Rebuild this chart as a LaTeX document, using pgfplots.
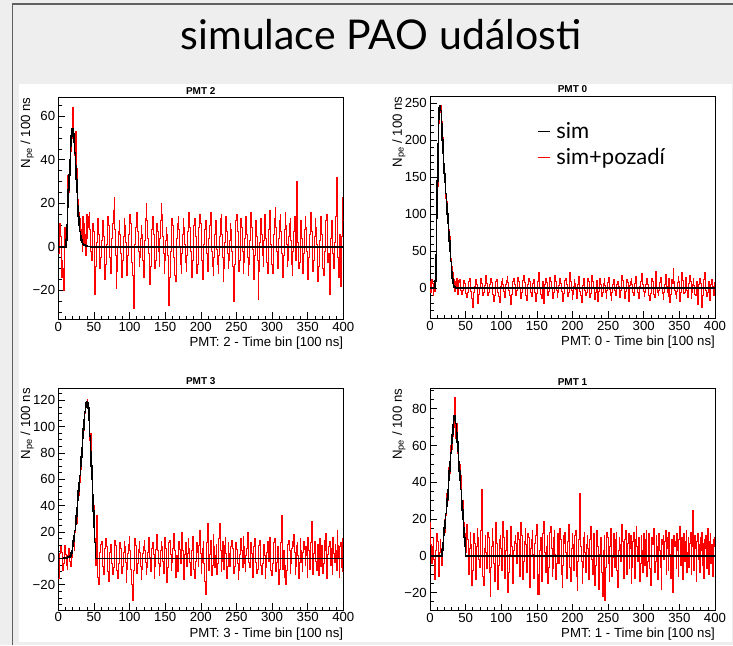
\documentclass[border=0pt]{standalone}
\usepackage{pgfplots}
\pgfplotsset{compat=1.18}
\usepackage{pgfplotstable}
\usepackage{fontspec}
\setmainfont{Liberation Sans}
\newfontfamily\latofont{Lato}
\definecolor{bg}{HTML}{EEEEEE}
\definecolor{framec}{HTML}{606060}
\definecolor{rootred}{HTML}{FF0000}

% PMT 2, sim+pozadi, bins 0..399
\pgfplotstableread[row sep=\\]{y\\
-3\\ 8\\ 11\\ 5\\ -14\\ -6\\ -10\\ -20\\ 2\\ 9\\ 3\\ 10\\ 14\\ 33\\ 25\\ 35\\ 38\\ 44\\ 50\\ 57\\
64\\ 50\\ 52\\ 42\\ 53\\ 36\\ 31\\ 22\\ 16\\ 9\\ 13\\ 3\\ 8\\ -2\\ 14\\ 1\\ 11\\ 6\\ -4\\ 15\\
4\\ 9\\ 14\\ 16\\ 8\\ -2\\ -6\\ 3\\ 11\\ 7\\ -4\\ -22\\ -9\\ 2\\ 10\\ 13\\ 6\\ -3\\ -10\\ -5\\
3\\ 9\\ 12\\ 5\\ -6\\ -15\\ -8\\ 1\\ 8\\ 14\\ 10\\ 2\\ -5\\ -12\\ -7\\ 4\\ 11\\ 17\\ 23\\ 8\\
-4\\ -19\\ -11\\ 0\\ 7\\ 12\\ 6\\ -3\\ -9\\ -14\\ -6\\ 5\\ 13\\ 10\\ 2\\ -8\\ -13\\ -4\\ 6\\ 9\\
15\\ 11\\ 3\\ -7\\ -13\\ -28\\ -10\\ 1\\ 9\\ 12\\ 16\\ 7\\ -2\\ -9\\ -5\\ 4\\ 10\\ 6\\ -6\\ -14\\
-8\\ 3\\ 13\\ 20\\ 12\\ 4\\ -3\\ -11\\ -17\\ -9\\ 2\\ 8\\ 14\\ 6\\ -4\\ -10\\ -6\\ 5\\ 11\\ 7\\
-2\\ -9\\ 4\\ 12\\ 20\\ 15\\ 5\\ -3\\ -12\\ -6\\ 3\\ 9\\ 6\\ -4\\ -11\\ -27\\ -14\\ -2\\ 8\\ 13\\
10\\ 3\\ -5\\ -13\\ -16\\ -7\\ 4\\ 11\\ 14\\ 8\\ 0\\ -8\\ -12\\ -3\\ 6\\ 13\\ 9\\ 1\\ -7\\ -11\\
-4\\ 7\\ 12\\ 16\\ 9\\ -2\\ -10\\ -14\\ -6\\ 3\\ 10\\ 13\\ 5\\ -4\\ -12\\ -8\\ 2\\ 9\\ 15\\ 11\\
4\\ -6\\ -15\\ -9\\ 1\\ 8\\ 12\\ 7\\ -3\\ -11\\ -7\\ 4\\ 10\\ 16\\ 9\\ -2\\ -9\\ -13\\ -5\\ 6\\
12\\ 8\\ -1\\ -8\\ -12\\ -4\\ 5\\ 13\\ 15\\ 6\\ -5\\ -16\\ -10\\ 2\\ 9\\ 14\\ 7\\ -3\\ -10\\ -6\\
3\\ 11\\ 8\\ -2\\ -9\\ -14\\ -25\\ -8\\ 4\\ 12\\ 15\\ 7\\ -4\\ -11\\ -6\\ 5\\ 13\\ 9\\ -2\\ -12\\
-7\\ 4\\ 10\\ 14\\ 6\\ -5\\ -13\\ -8\\ 3\\ 11\\ 16\\ 9\\ -1\\ -10\\ -15\\ -4\\ 7\\ 12\\ 5\\ -6\\
-24\\ -11\\ 2\\ 9\\ 13\\ 6\\ -4\\ -9\\ 3\\ 15\\ 12\\ 4\\ -7\\ -12\\ -3\\ 8\\ 17\\ 10\\ 1\\ -8\\
-12\\ -5\\ 6\\ 13\\ 18\\ 9\\ -2\\ -10\\ -6\\ 4\\ 12\\ 15\\ 7\\ -3\\ -11\\ -14\\ -4\\ 8\\ 16\\ 10\\
1\\ -9\\ -6\\ 5\\ 11\\ 13\\ 3\\ -8\\ -13\\ -2\\ 7\\ 14\\ 10\\ -6\\ 30\\ 12\\ 2\\ -10\\ -7\\ 6\\
12\\ 4\\ -7\\ -12\\ -3\\ 8\\ 14\\ 9\\ -2\\ -9\\ -15\\ -5\\ 6\\ 12\\ 16\\ 7\\ -4\\ -11\\ -6\\ 5\\
13\\ 9\\ 1\\ -8\\ -16\\ -9\\ 3\\ 11\\ 14\\ 6\\ -4\\ -10\\ -13\\ -2\\ 8\\ 12\\ 15\\ 4\\ -7\\ -3\\
-22\\ -10\\ 4\\ 12\\ 9\\ -3\\ -10\\ 2\\ 11\\ 14\\ 32\\ 8\\ -5\\ -14\\ -8\\ 6\\ -18\\ 5\\ 23\\ 12\\ 12\\
}\redA

% PMT 0
\pgfplotstableread[row sep=\\]{y\\
10\\ -6\\ 12\\ 7\\ -9\\ 2\\ -4\\ 14\\ 40\\ 100\\ 138\\ 198\\ 222\\ 240\\ 238\\ 247\\ 226\\ 204\\ 176\\ 165\\
150\\ 148\\ 122\\ 118\\ 96\\ 92\\ 80\\ 70\\ 56\\ 40\\ 30\\ 22\\ 6\\ 12\\ -4\\ 9\\ 3\\ 14\\ -8\\ 11\\
8\\ 12\\ 5\\ -3\\ -8\\ -2\\ 6\\ 11\\ 7\\ -1\\ -7\\ -12\\ -5\\ 4\\ 10\\ 14\\ 6\\ -4\\ -13\\ -25\\
-16\\ -6\\ 3\\ 9\\ 12\\ 5\\ -3\\ -20\\ -8\\ 2\\ 8\\ 13\\ 7\\ -2\\ -9\\ -5\\ 4\\ 11\\ 18\\ 7\\
-3\\ -10\\ -6\\ 5\\ 10\\ 14\\ 8\\ -1\\ -8\\ -17\\ -9\\ 2\\ 9\\ 12\\ 4\\ -5\\ -11\\ -19\\ -7\\ 3\\
10\\ 13\\ 6\\ -4\\ -12\\ -6\\ 5\\ 11\\ 16\\ 8\\ -2\\ -9\\ -13\\ -22\\ -8\\ 3\\ 10\\ 13\\ 6\\ -5\\
-10\\ -3\\ 7\\ 15\\ 9\\ 1\\ -7\\ -14\\ -6\\ 4\\ 11\\ 17\\ 8\\ -3\\ -9\\ -16\\ -5\\ 6\\ 13\\ 9\\
2\\ -6\\ -11\\ -4\\ 7\\ 12\\ 5\\ -5\\ -18\\ -7\\ 3\\ 10\\ 21\\ 11\\ 1\\ -8\\ -13\\ -3\\ 9\\ -20\\
-6\\ 5\\ 13\\ 8\\ -2\\ -9\\ -4\\ 6\\ 15\\ 10\\ 1\\ -8\\ -14\\ -5\\ 7\\ 18\\ 9\\ -3\\ -12\\ -6\\
4\\ 10\\ 14\\ 7\\ -4\\ -10\\ -17\\ -7\\ 5\\ 11\\ 13\\ 6\\ -3\\ -11\\ -5\\ 8\\ 22\\ 9\\ -2\\ -15\\
-8\\ 3\\ 12\\ 7\\ -1\\ -13\\ -6\\ 5\\ 16\\ 9\\ -4\\ -10\\ -19\\ -7\\ 4\\ 13\\ 8\\ -2\\ -9\\ -5\\
6\\ 14\\ 9\\ -3\\ -12\\ -7\\ 4\\ 17\\ 10\\ 1\\ -8\\ -15\\ -6\\ 5\\ 11\\ -18\\ -4\\ 9\\ 14\\ 6\\
-2\\ -11\\ -5\\ 7\\ 13\\ 4\\ -6\\ -14\\ -3\\ 8\\ 15\\ 9\\ -1\\ -9\\ -16\\ -6\\ 5\\ 12\\ 7\\ -3\\
-10\\ -4\\ 6\\ 10\\ 3\\ -7\\ -12\\ -2\\ 9\\ 18\\ 11\\ 1\\ -8\\ -13\\ -4\\ 6\\ 12\\ 8\\ -17\\ -6\\
4\\ 10\\ 13\\ 5\\ -5\\ -10\\ -3\\ 7\\ 16\\ 11\\ 2\\ -6\\ -14\\ -8\\ 3\\ 9\\ 12\\ 20\\ 6\\ -4\\
-11\\ -5\\ 5\\ 11\\ 14\\ 6\\ -3\\ -9\\ -16\\ -7\\ 4\\ 13\\ 9\\ -1\\ -8\\ -12\\ 23\\ 10\\ 2\\ -6\\
-10\\ -3\\ 8\\ 15\\ 10\\ 1\\ -7\\ -15\\ -5\\ 6\\ 19\\ 12\\ 3\\ -6\\ -11\\ 14\\ -19\\ -8\\ 5\\ 12\\
7\\ 27\\ 9\\ -2\\ -8\\ -13\\ -4\\ 8\\ 16\\ 10\\ -17\\ -6\\ 5\\ 21\\ 11\\ 2\\ -7\\ -5\\ 15\\ 8\\
-3\\ -12\\ -6\\ 7\\ 18\\ 9\\ -14\\ -5\\ 6\\ 13\\ 4\\ -8\\ -10\\ -2\\ 9\\ -21\\ -9\\ 6\\ 14\\ 7\\
1\\ -26\\ -9\\ 4\\ 12\\ 22\\ 8\\ -3\\ -11\\ -6\\ 5\\ 10\\ -16\\ -7\\ 6\\ 12\\ 3\\ -5\\ -9\\ 8\\ 8\\
}\redB

% PMT 3
\pgfplotstableread[row sep=\\]{y\\
-15\\ -6\\ 4\\ 9\\ 5\\ -3\\ -9\\ -4\\ 6\\ 10\\ 3\\ -5\\ -8\\ 2\\ 8\\ 4\\ -2\\ -6\\ 1\\ 5\\
10\\ 16\\ 6\\ 20\\ 30\\ 27\\ 34\\ 45\\ 48\\ 60\\ 58\\ 68\\ 80\\ 80\\ 92\\ 97\\ 108\\ 110\\ 117\\ 115\\
121\\ 118\\ 114\\ 108\\ 90\\ 95\\ 68\\ 62\\ 45\\ 40\\ 20\\ 15\\ -5\\ 33\\ 8\\ -14\\ -20\\ -6\\ 5\\ 11\\
13\\ 4\\ -6\\ -12\\ -3\\ 8\\ 15\\ 9\\ -2\\ -10\\ -17\\ -6\\ 5\\ 11\\ 7\\ -4\\ -12\\ -7\\ 6\\ 14\\
10\\ 2\\ -9\\ -15\\ -4\\ 7\\ 12\\ 8\\ -1\\ -11\\ -6\\ 5\\ 13\\ 9\\ -3\\ -18\\ -8\\ 4\\ 11\\ 17\\
6\\ -8\\ -14\\ -20\\ -32\\ -9\\ 3\\ 15\\ 10\\ -2\\ -11\\ -4\\ 7\\ 13\\ 5\\ -6\\ -16\\ -8\\ 4\\ 9\\
14\\ 6\\ -3\\ -12\\ -7\\ 5\\ 16\\ 10\\ 1\\ -10\\ -4\\ 8\\ 12\\ 3\\ -15\\ -6\\ 7\\ 11\\ 18\\ 6\\
-4\\ -13\\ -6\\ 6\\ 13\\ 9\\ -2\\ -11\\ 4\\ 16\\ 8\\ -5\\ -18\\ -7\\ 5\\ 12\\ 14\\ 3\\ -9\\ -3\\
8\\ 11\\ 19\\ 6\\ -14\\ -7\\ 2\\ -10\\ 5\\ 13\\ 7\\ -4\\ 10\\ 20\\ 6\\ -12\\ -16\\ 3\\ 12\\ 9\\
-6\\ 4\\ 15\\ 8\\ -3\\ -13\\ -5\\ 6\\ 17\\ 9\\ -8\\ -15\\ -2\\ 7\\ 12\\ 5\\ -6\\ 10\\ 21\\ 4\\
-11\\ -3\\ 8\\ 13\\ -4\\ -17\\ -27\\ 6\\ 12\\ 27\\ 10\\ -9\\ 3\\ 14\\ 6\\ -13\\ -5\\ 18\\ 9\\ -7\\
2\\ 11\\ -12\\ -4\\ 9\\ 15\\ 27\\ 6\\ -10\\ -2\\ 13\\ 3\\ -8\\ 10\\ 16\\ 4\\ -15\\ -6\\ 12\\ 4\\
-6\\ 3\\ 9\\ 14\\ 8\\ -2\\ -11\\ -6\\ 5\\ 12\\ 7\\ -4\\ -16\\ -9\\ 3\\ 10\\ 15\\ 6\\ -7\\ 17\\
9\\ -4\\ -10\\ 2\\ 8\\ 20\\ 11\\ -3\\ -7\\ 6\\ 12\\ 4\\ -14\\ -6\\ 9\\ 15\\ 7\\ -3\\ -11\\ -8\\
3\\ 10\\ 14\\ 8\\ -5\\ -12\\ -4\\ 6\\ 11\\ 2\\ -15\\ -7\\ 5\\ 13\\ 9\\ -2\\ 16\\ 10\\ -9\\ -13\\
-4\\ 7\\ 12\\ 15\\ 6\\ -10\\ -3\\ 9\\ 4\\ -20\\ -8\\ 2\\ 12\\ 33\\ 10\\ -8\\ 6\\ -14\\ -5\\ -20\\
-9\\ 3\\ 11\\ 14\\ 6\\ -11\\ -4\\ 8\\ 13\\ 9\\ 18\\ 5\\ -12\\ -6\\ 10\\ 12\\ 2\\ -15\\ -3\\ 15\\
6\\ -3\\ -10\\ 5\\ 13\\ 7\\ -5\\ 9\\ 2\\ -14\\ 16\\ 6\\ -8\\ 3\\ 12\\ 28\\ 8\\ -12\\ 4\\ 13\\
7\\ -2\\ -9\\ 4\\ 11\\ -13\\ 15\\ 8\\ -6\\ 10\\ 2\\ -11\\ -4\\ 14\\ 6\\ 19\\ -15\\ -7\\ 3\\ 9\\
13\\ 5\\ -5\\ 8\\ -12\\ 16\\ 4\\ -3\\ 11\\ 6\\ -9\\ 21\\ 10\\ 1\\ -14\\ 9\\ 12\\ -7\\ 15\\ -10\\ -10\\
}\redC

% PMT 1
\pgfplotstableread[row sep=\\]{y\\
18\\ 6\\ -4\\ 5\\ 10\\ -2\\ -13\\ -7\\ 3\\ 12\\ 8\\ -6\\ -11\\ 2\\ 9\\ 4\\ -5\\ 6\\ 10\\ 14\\
20\\ 13\\ 22\\ 34\\ 35\\ 30\\ 48\\ 45\\ 52\\ 60\\ 58\\ 65\\ 72\\ 70\\ 86\\ 68\\ 64\\ 72\\ 56\\ 62\\
48\\ 50\\ 38\\ 44\\ 28\\ 30\\ 14\\ 18\\ 6\\ 12\\ 2\\ 17\\ 9\\ -5\\ -10\\ 4\\ 13\\ 6\\ -16\\ -8\\
3\\ 12\\ 7\\ -8\\ -13\\ 5\\ 15\\ 10\\ -2\\ -6\\ 8\\ 14\\ 36\\ 11\\ -11\\ -16\\ 4\\ 11\\ 2\\ -7\\
6\\ 13\\ 10\\ -9\\ -22\\ -6\\ 5\\ 15\\ 8\\ -4\\ -14\\ 2\\ 18\\ 7\\ -3\\ -18\\ -5\\ 9\\ 11\\ 4\\
-8\\ 6\\ 19\\ 10\\ -12\\ -5\\ 3\\ 14\\ 7\\ -20\\ -9\\ 1\\ 12\\ 16\\ 5\\ -10\\ -15\\ 3\\ 8\\ 11\\
7\\ -4\\ 2\\ 13\\ 9\\ -11\\ -6\\ 18\\ 11\\ 5\\ -13\\ -3\\ 8\\ 15\\ 6\\ -9\\ 3\\ 12\\ 10\\ -17\\
-6\\ 4\\ 9\\ 14\\ 1\\ -12\\ -8\\ 7\\ 11\\ 17\\ 5\\ -21\\ -10\\ -21\\ 3\\ 10\\ -14\\ 6\\ 12\\ 19\\
8\\ 2\\ -9\\ 5\\ 11\\ -15\\ -6\\ 7\\ 13\\ 16\\ 4\\ -11\\ -7\\ 10\\ 14\\ 1\\ -13\\ -4\\ 8\\ 12\\
-4\\ 6\\ 15\\ 9\\ -10\\ -17\\ -5\\ 11\\ 7\\ 13\\ 2\\ -12\\ -6\\ 8\\ 17\\ 10\\ -6\\ -14\\ 4\\ 12\\
6\\ -8\\ 3\\ 11\\ 14\\ -11\\ -19\\ -3\\ 9\\ 12\\ 34\\ 5\\ -3\\ -15\\ -6\\ 10\\ 13\\ 2\\ -9\\ 6\\
11\\ 4\\ -13\\ -7\\ 9\\ 16\\ 7\\ -2\\ -10\\ 12\\ 3\\ -16\\ -5\\ 8\\ 14\\ 5\\ -18\\ -7\\ 1\\ 10\\
6\\ -9\\ -22\\ 3\\ 11\\ -24\\ -6\\ 8\\ 13\\ 10\\ -4\\ -14\\ 5\\ 15\\ 7\\ -11\\ -1\\ 12\\ 4\\ -6\\
9\\ 13\\ -8\\ -17\\ 3\\ 10\\ 6\\ -3\\ 11\\ 17\\ 8\\ -12\\ -5\\ 9\\ 14\\ 2\\ -10\\ 7\\ 12\\ -7\\
4\\ 11\\ -15\\ -6\\ 8\\ 13\\ 2\\ -12\\ 9\\ 16\\ 5\\ -3\\ 10\\ 7\\ -14\\ -4\\ 11\\ 3\\ -9\\ 12\\
6\\ -5\\ 9\\ 14\\ -11\\ -3\\ 8\\ 12\\ -7\\ -16\\ 2\\ 10\\ 6\\ 13\\ 15\\ -9\\ -3\\ 11\\ 5\\ -13\\
7\\ 12\\ 3\\ -6\\ -18\\ 9\\ 6\\ 11\\ -2\\ 8\\ 14\\ -10\\ 4\\ 10\\ -8\\ 13\\ 1\\ -12\\ 7\\ 9\\
-20\\ -4\\ 11\\ 5\\ 8\\ -7\\ 12\\ 3\\ -11\\ 9\\ 16\\ -5\\ 6\\ 10\\ -13\\ 4\\ 12\\ -3\\ 8\\ 14\\
-9\\ 2\\ 10\\ -6\\ 7\\ 13\\ -10\\ 5\\ 25\\ 9\\ -8\\ 11\\ 4\\ -14\\ 8\\ 12\\ -2\\ 6\\ -9\\ 10\\
3\\ 13\\ -5\\ 7\\ -12\\ 9\\ 4\\ 11\\ -7\\ 15\\ 2\\ -10\\ 8\\ 12\\ -4\\ 6\\ -11\\ 9\\ 5\\ 10\\ 10\\
}\redD

\pgfplotsset{
 pmt/.style={
  width=285pt, height=222pt, scale only axis,
  xmin=0, xmax=400,
  xtick={0,50,...,400}, minor xtick={0,10,...,400},
  tick align=inside, tick pos=left,
  major tick length=7pt, minor tick length=3.5pt,
  every tick/.style={black, line width=0.6pt},
  axis line style={line width=0.8pt},
  /pgf/number format/assume math mode=true,
  tick label style={font=\fontsize{13.2}{13.2}\selectfont},
  xticklabel style={inner sep=0pt, yshift=-2.5pt},
  yticklabel style={inner sep=0pt, xshift=-3pt},
  label style={font=\fontsize{13.2}{13.2}\selectfont},
  xlabel style={at={(axis description cs:1,0)}, anchor=north east, inner sep=0pt, yshift=-17.5pt},
  ylabel style={at={(axis description cs:-0.085,1)}, anchor=south east, inner sep=0pt},
  ylabel={N\textsubscript{pe} / 100 ns},
  title style={font=\bfseries\fontsize{10}{10}\selectfont, at={(axis description cs:0.5,1)}, anchor=south, inner sep=0pt, yshift=-3pt},
 },
 redh/.style={rootred, line width=0.5pt, const plot mark left},
 blackh/.style={black, line width=1.6pt, const plot mark left},
}

\begin{document}
\begin{tikzpicture}
\fill[bg] (0,0) rectangle (733pt,645pt);
\fill[white] (19pt,3pt) rectangle (732pt,561pt);
\draw[framec, line width=1.5pt] (12.5pt,0pt) -- (12.5pt,641pt) -- (733pt,641pt);
\node[anchor=base, font=\latofont\fontsize{41}{41}\selectfont] at (381pt,595pt) {simulace PAO události};

% PMT 2
\begin{axis}[pmt, at={(58.3pt,325.7pt)}, anchor=south west,
  ymin=-33.3, ymax=68.7, ytick={-20,0,20,40,60}, yticklabels={−20,0,20,40,60},
  minor ytick={-30,-25,...,65},
  title={PMT 2}, xlabel={PMT: 2 - Time bin [100 ns]}]
\addplot[redh] table[x expr=\coordindex, y index=0] {\redA};
\addplot[blackh] coordinates {(0,0) (11,3) (12,10) (13,18) (14,26) (15,33) (16,40) (17,46) (18,51) (19,54) (20,54) (21,52) (22,48) (23,43) (24,37) (25,31) (26,25) (27,19) (28,14) (29,10) (30,7) (31,5) (32,3) (33,2) (34,1.5) (35,1) (36,0.7) (38,0.4) (40,0.2) (45,0) (400,0)};
\end{axis}

% PMT 0
\begin{axis}[pmt, at={(430pt,326.7pt)}, anchor=south west,
  ymin=-40.5, ymax=259, ytick={0,50,...,250}, yticklabels={0,50,100,150,200,250},
  minor ytick={-40,-30,...,250},
  title={PMT 0}, xlabel={PMT: 0 - Time bin [100 ns]},
  legend style={at={(axis description cs:0.375,0.89)}, anchor=north west, draw=none, fill=none, inner sep=0pt, row sep=4pt, column sep=4pt, font=\latofont\fontsize{22}{22}\selectfont},
  legend cell align=left,
  legend image code/.code={\draw[#1] (0pt,0pt) -- (12pt,0pt);}]
\addlegendimage{black, line width=1.2pt}
\addlegendentry{sim}
\addlegendimage{rootred, line width=1pt}
\addlegendentry{sim+pozadí}
\addplot[redh, forget plot] table[x expr=\coordindex, y index=0] {\redB};
\addplot[blackh, forget plot] coordinates {(0,0) (7,10) (8,45) (9,95) (10,145) (11,195) (12,228) (13,243) (14,246) (15,240) (16,222) (17,200) (18,182) (19,168) (20,155) (21,143) (22,128) (23,114) (24,100) (25,88) (26,76) (27,64) (28,50) (29,36) (30,22) (31,13) (32,7) (33,4) (34,2) (35,1) (36,0.5) (37,0) (400,0)};
\end{axis}

% PMT 3
\begin{axis}[pmt, at={(58.3pt,35pt)}, anchor=south west,
  ymin=-39.2, ymax=129.3, ytick={-20,0,20,...,120}, yticklabels={−20,0,20,40,60,80,100,120},
  minor ytick={-35,-30,...,125},
  title={PMT 3}, xlabel={PMT: 3 - Time bin [100 ns]}]
\addplot[redh] table[x expr=\coordindex, y index=0] {\redC};
\addplot[blackh] coordinates {(0,0) (8,0.3) (12,0.6) (14,1) (16,2) (18,4) (19,6) (20,9) (21,13) (22,17) (23,21) (24,26) (25,32) (26,38) (27,44) (28,51) (29,57) (30,63) (31,70) (32,77) (33,84) (34,91) (35,98) (36,105) (37,111) (38,115) (39,118) (40,119) (41,118) (42,114) (43,105) (44,93) (45,81) (46,70) (47,60) (48,48) (49,36) (50,24) (51,12) (52,0) (400,0)};
\end{axis}

% PMT 1
\begin{axis}[pmt, at={(430pt,34.3pt)}, anchor=south west,
  ymin=-29.9, ymax=90.9, ytick={-20,0,20,...,80}, yticklabels={−20,0,20,40,60,80},
  minor ytick={-25,-20,...,90},
  title={PMT 1}, xlabel={PMT: 1 - Time bin [100 ns]}]
\addplot[redh] table[x expr=\coordindex, y index=0] {\redD};
\addplot[blackh] coordinates {(0,0) (16,0) (17,3) (18,7) (19,11) (20,15) (21,19) (22,23) (23,27) (24,31) (25,36) (26,41) (27,46) (28,51) (29,56) (30,61) (31,66) (32,71) (33,74) (34,76) (35,75) (36,72) (37,67) (38,62) (39,57) (40,51) (41,46) (42,41) (43,36) (44,30) (45,25) (46,20) (47,15) (48,10) (49,5) (50,0) (400,0)};
\end{axis}

\pgfresetboundingbox
\path[use as bounding box] (0,0) rectangle (733pt,645pt);
\end{tikzpicture}
\end{document}
